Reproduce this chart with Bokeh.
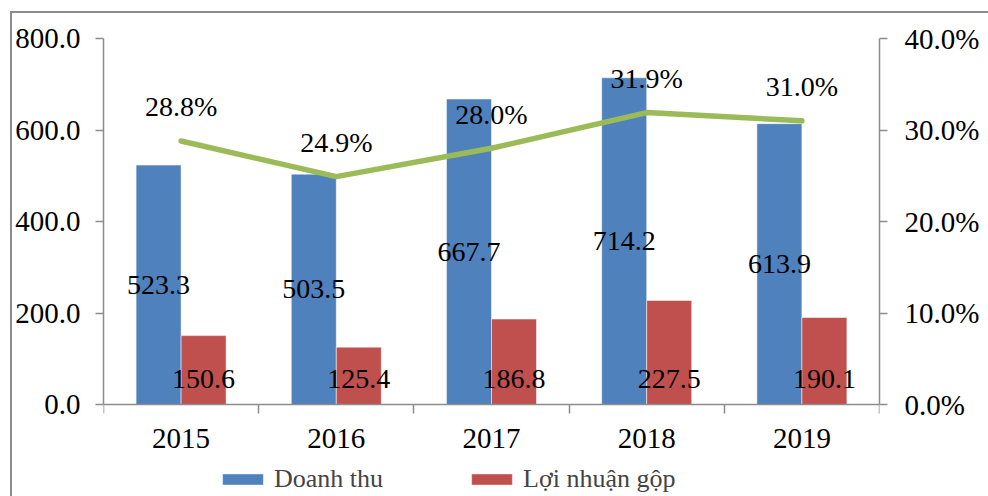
from bokeh.plotting import figure
from bokeh.models import (Range1d, LinearAxis, FixedTicker, NumeralTickFormatter,
                          ColumnDataSource, Legend, LegendItem, InlineStyleSheet)
from bokeh.core.properties import value
from bokeh.transform import dodge
from bokeh.embed import file_html
from bokeh.resources import INLINE

# ---- data ----
years = ["2015", "2016", "2017", "2018", "2019"]
revenue = [523.3, 503.5, 667.7, 714.2, 613.9]          # Doanh thu
gross_profit = [150.6, 125.4, 186.8, 227.5, 190.1]     # Lợi nhuận gộp
gross_margin = [0.288, 0.249, 0.280, 0.319, 0.310]     # %
left_ticks = [0, 200, 400, 600, 800]
right_ticks = [0.0, 0.1, 0.2, 0.3, 0.4]
LEFT_MAX = 800
RIGHT_MAX = 0.4

FONT = "Liberation Serif"
AX_FS = "29px"
LB_FS = "28px"
LG_FS = "26px"
BLUE = "#4F81BD"
RED = "#C0504D"
GREEN = "#9BBB59"
GRAY = "#8C8C8C"

# layout geometry (pixels)
FRAME_W = 776
PLOT_H = 366          # height of the 0..max value area
BELOW_H = 92          # space under the zero line (x labels + legend)
FRAME_H = PLOT_H + BELOW_H
ext = BELOW_H / PLOT_H  # fraction of range to extend below zero

xc = [i + 0.5 for i in range(len(years))]
src = ColumnDataSource(dict(
    x=xc,
    rev=revenue,
    gp=gross_profit,
    mg=gross_margin,
    rev_mid=[v / 2 for v in revenue],
    zero=[0] * len(years),
    rev_lbl=[f"{v:.1f}" for v in revenue],
    gp_lbl=[f"{v:.1f}" for v in gross_profit],
    mg_lbl=[f"{v * 100:.1f}%" for v in gross_margin],
))

p = figure(frame_width=FRAME_W, frame_height=FRAME_H,
           min_border_left=103, min_border_right=109,
           min_border_top=38, min_border_bottom=0,
           x_range=Range1d(0, len(years)),
           y_range=Range1d(-LEFT_MAX * ext, LEFT_MAX),
           output_backend="svg", toolbar_location=None)
p.extra_y_ranges = {"pct": Range1d(-RIGHT_MAX * ext, RIGHT_MAX)}
p.outline_line_color = None
p.xgrid.visible = False
p.ygrid.visible = False
p.background_fill_color = "white"
p.border_fill_color = "white"
p.stylesheets = [InlineStyleSheet(css=(
    ":host::after{content:'';position:absolute;left:10px;top:11px;right:0;bottom:0;"
    "border-left:2px solid #8c8c8c;border-top:2px solid #8c8c8c;pointer-events:none;}"
))]

BW = 0.29
OFF = 0.145
blue = p.vbar(x=dodge("x", -OFF, range=p.x_range), top="rev", width=BW, source=src,
              fill_color=BLUE, line_color="white", line_alpha=0.5, line_width=1)
red = p.vbar(x=dodge("x", OFF, range=p.x_range), top="gp", width=BW, source=src,
             fill_color=RED, line_color="white", line_alpha=0.5, line_width=1)
p.line("x", "mg", source=src, y_range_name="pct", line_color=GREEN, line_width=5.5,
       line_cap="round", line_join="round")

# data labels
p.text(x=dodge("x", -OFF, range=p.x_range), y="rev_mid", text="rev_lbl", source=src,
       text_align="center", text_baseline="middle", text_font=value(FONT),
       text_font_size=LB_FS, text_color="black")
p.text(x=dodge("x", OFF, range=p.x_range), y="zero", text="gp_lbl", source=src,
       text_align="center", text_baseline="bottom", y_offset=-17,
       text_font=value(FONT), text_font_size=LB_FS, text_color="black")
p.text(x="x", y="mg", text="mg_lbl", source=src, y_range_name="pct",
       text_align="center", text_baseline="middle", y_offset=-34,
       text_font=value(FONT), text_font_size=LB_FS, text_color="black")

# axes
def style_axis(ax):
    ax.axis_line_color = GRAY
    ax.axis_line_width = 1.5
    ax.major_tick_line_color = GRAY
    ax.major_tick_line_width = 1.5
    ax.minor_tick_line_color = GRAY
    ax.minor_tick_line_width = 1.5
    ax.major_label_text_font = FONT
    ax.major_label_text_font_size = AX_FS
    ax.major_label_text_color = "black"

yl = p.yaxis[0]
yl.ticker = FixedTicker(ticks=left_ticks)
yl.formatter = NumeralTickFormatter(format="0.0")
yl.bounds = (0, LEFT_MAX)
style_axis(yl)
yl.major_tick_in = 0
yl.major_tick_out = 8
yl.minor_tick_out = 0
yl.minor_tick_in = 0
yl.major_label_standoff = 15

yr = LinearAxis(y_range_name="pct", ticker=FixedTicker(ticks=right_ticks),
                formatter=NumeralTickFormatter(format="0.0%"),
                bounds=(0, RIGHT_MAX))
style_axis(yr)
yr.major_tick_in = 0
yr.major_tick_out = 8
yr.minor_tick_out = 0
yr.minor_tick_in = 0
yr.major_label_standoff = 17
p.add_layout(yr, "right")

xa = p.xaxis[0]
xa.fixed_location = 0
xa.ticker = FixedTicker(ticks=xc, minor_ticks=list(range(len(years) + 1)))
xa.major_label_overrides = {x: y for x, y in zip(xc, years)}
style_axis(xa)
xa.major_tick_in = 0
xa.major_tick_out = 0
xa.minor_tick_in = 0
xa.minor_tick_out = 9
xa.major_label_standoff = 15

legend = Legend(items=[LegendItem(label="Doanh thu", renderers=[blue]),
                       LegendItem(label="Lợi nhuận gộp", renderers=[red])],
                orientation="horizontal", location=(114, 2),
                glyph_width=51, glyph_height=14, label_standoff=6, spacing=83,
                padding=0, margin=0, border_line_color=None,
                background_fill_alpha=0,
                label_text_font=FONT, label_text_font_size=LG_FS)
p.add_layout(legend, "center")

open("out.html", "w").write(file_html(p, INLINE))
